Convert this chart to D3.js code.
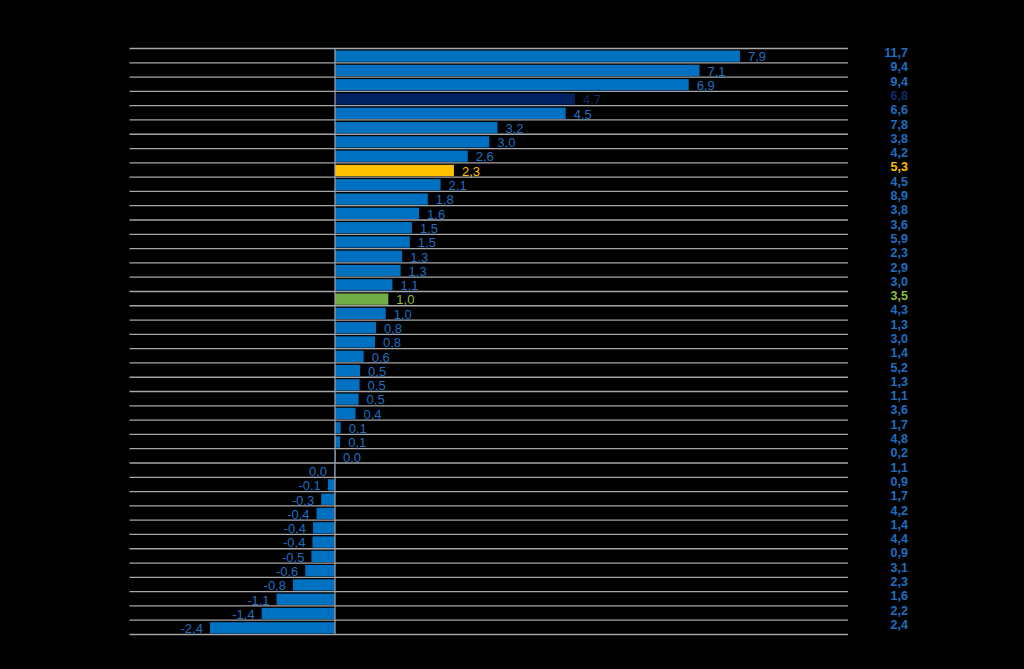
<!DOCTYPE html>
<html>
<head>
<meta charset="utf-8">
<script src="https://cdn.jsdelivr.net/npm/d3@7"></script>
<style>
  html, body { margin: 0; padding: 0; background: #000; }
  svg { display: block; }
</style>
</head>
<body>
<svg id="chart" width="1024" height="669"></svg>
<script>
// Bar values (change)
const barValues = [7.9, 7.11, 6.9, 4.68, 4.5, 3.17, 3.01, 2.59, 2.32, 2.06,
  1.81, 1.64, 1.50, 1.46, 1.31, 1.28, 1.12, 1.04, 0.99, 0.80,
  0.78, 0.56, 0.49, 0.48, 0.46, 0.40, 0.11, 0.10, 0.0, -0.02,
  -0.14, -0.27, -0.36, -0.43, -0.44, -0.46, -0.58, -0.82, -1.14, -1.43, -2.44];
// Right-hand column values
const rightValues = [11.7, 9.4, 9.4, 6.8, 6.6, 7.8, 3.8, 4.2, 5.3, 4.5,
  8.9, 3.8, 3.6, 5.9, 2.3, 2.9, 3.0, 3.5, 4.3, 1.3,
  3.0, 1.4, 5.2, 1.3, 1.1, 3.6, 1.7, 4.8, 0.2, 1.1,
  0.9, 1.7, 4.2, 1.4, 4.4, 0.9, 3.1, 2.3, 1.6, 2.2, 2.4];
// Highlight kind per row (index -> kind)
const highlightRows = [3, 8, 17];
const highlightKinds = ["navy", "yellow", "green"];

const colors = {
  normal: { bar: "#0070C0", text: "#1F6FC0" },
  navy:   { bar: "#002060", text: "#0F2A66" },
  yellow: { bar: "#FFC000", text: "#FFC000" },
  green:  { bar: "#70AD47", text: "#8DBE45" }
};

const kindOf = i => {
  const k = highlightRows.indexOf(i);
  return k >= 0 ? highlightKinds[k] : "normal";
};
const fmt = v => (Math.abs(v) < 0.05 ? "0,0" : v.toFixed(1).replace(".", ","));

const svg = d3.select("#chart");
const rows = d3.range(barValues.length);

const x = d3.scaleLinear().domain([0, 7.9]).range([335, 740]);
const y = d3.scaleBand().domain(rows).range([48.5, 634.5]).padding(0);
const step = y.step();

// gridlines
const gridY = rows.map(i => y(i)).concat([y(rows.length - 1) + step]);
svg.append("g").selectAll("line").data(gridY).join("line")
  .attr("x1", 129.5).attr("x2", 848)
  .attr("y1", d => d).attr("y2", d => d)
  .attr("stroke", "#a6a6a6").attr("stroke-width", 1.3);

// bars
svg.append("g").selectAll("rect").data(rows).join("rect")
  .attr("x", i => Math.min(x(0), x(barValues[i])))
  .attr("width", i => Math.max(Math.abs(x(barValues[i]) - x(0)), 1))
  .attr("y", i => y(i) + 2)
  .attr("height", step - 3)
  .attr("fill", i => colors[kindOf(i)].bar);

// zero line
svg.append("line")
  .attr("x1", x(0)).attr("x2", x(0))
  .attr("y1", 48.5).attr("y2", 634.5)
  .attr("stroke", "#a6a6a6").attr("stroke-width", 1.2);

// bar labels
svg.append("g").selectAll("text").data(rows).join("text")
  .attr("x", i => barValues[i] < 0 || (i > 28 && barValues[i] <= 0) ? x(barValues[i]) - 7 : x(barValues[i]) + 8)
  .attr("y", i => y(i) + step / 2 + 5.8)
  .attr("text-anchor", i => barValues[i] < 0 ? "end" : "start")
  .attr("font-family", "Liberation Sans, Arial, sans-serif")
  .attr("font-size", 13)
  .attr("fill", i => colors[kindOf(i)].text)
  .text(i => fmt(barValues[i]));

// right column
svg.append("g").selectAll("text").data(rows).join("text")
  .attr("x", 908)
  .attr("y", i => y(i) + step / 2 + 1.5)
  .attr("text-anchor", "end")
  .attr("font-family", "Liberation Sans, Arial, sans-serif")
  .attr("font-size", 12.5)
  .attr("font-weight", "bold")
  .attr("fill", i => colors[kindOf(i)].text)
  .text(i => fmt(rightValues[i]));
</script>
</body>
</html>
